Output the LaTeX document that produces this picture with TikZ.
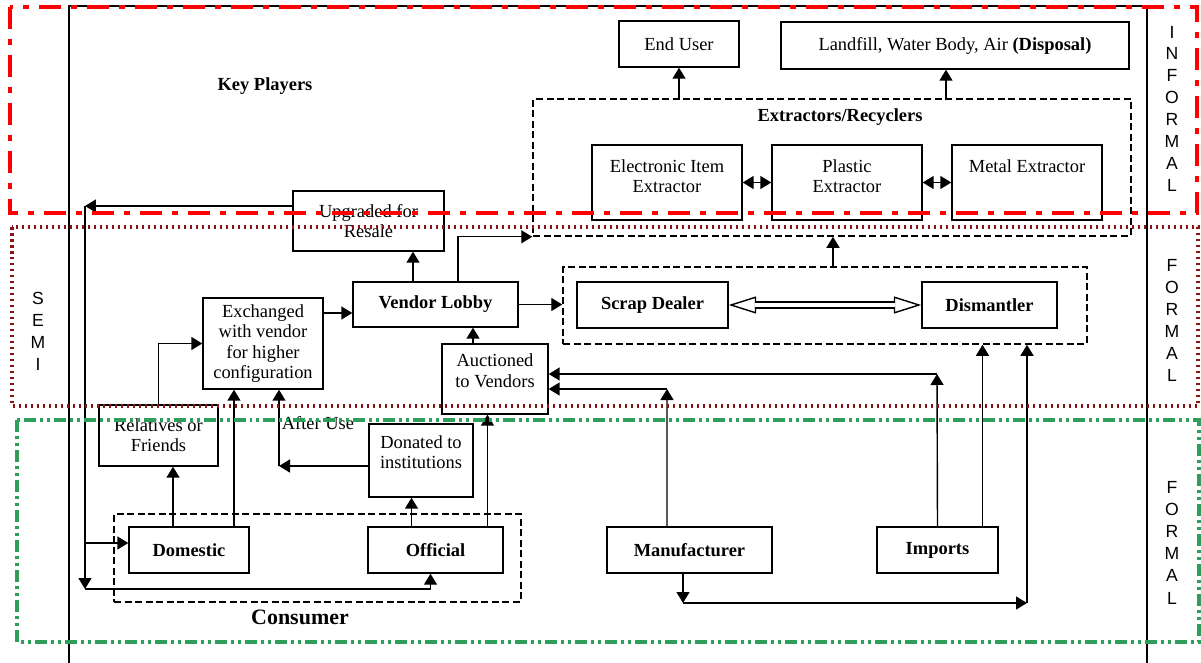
\documentclass[tikz,border=0pt]{standalone}
\usepackage{fontspec}
\setmainfont{Liberation Serif}
\newfontfamily\sidefont{Liberation Sans}
\usetikzlibrary{arrows.meta}
\definecolor{infred}{RGB}{255,0,0}
\definecolor{semired}{RGB}{140,20,20}
\definecolor{formgreen}{RGB}{46,158,90}

\begin{document}
\begin{tikzpicture}[x=0.02cm,y=-0.02cm,line join=miter,
  box/.style={draw,line width=0.8pt,align=center,inner sep=1pt,font=\fontsize{10.5}{11.5}\selectfont},
  bbox/.style={box,font=\fontsize{10.5}{11.5}\selectfont\bfseries},
  grp/.style={draw,line width=0.9pt,dash pattern=on 0.14cm off 0.07cm},
  lbl/.style={font=\fontsize{10.5}{11.5}\selectfont},
  side/.style={font=\sidefont\fontsize{10}{11}\selectfont,inner sep=0pt},
  arr/.style={line width=0.8pt,-{Triangle[length=0.22cm,width=0.26cm]}},
  dbl/.style={line width=0.8pt,{Triangle[length=0.22cm,width=0.26cm]}-{Triangle[length=0.22cm,width=0.26cm]}},
  hollowtip/.style={line width=0.8pt,{Triangle[open,length=0.55cm,width=0.34cm]}-{Triangle[open,length=0.55cm,width=0.34cm]}},
  hollow/.style={double,line width=0.8pt,double distance=0.09cm,shorten <=0.52cm,shorten >=0.52cm},
  informal/.style={draw=infred,line width=2.8pt,dash pattern=on 0.44cm off 0.2cm on 0.12cm off 0.2cm},
  semi/.style={draw=semired,line width=2pt,dash pattern=on 0.05cm off 0.07cm},
  formal/.style={draw=formgreen,line width=2pt,dash pattern=on 0.24cm off 0.08cm on 0.06cm off 0.08cm on 0.06cm off 0.08cm}]
\useasboundingbox (0,0) rectangle (1201,663);
\draw[line width=1.2pt] (69,663) -- (69,6) -- (1147,6) -- (1147,663);

\node[lbl,font=\fontsize{10.5}{11.5}\selectfont\bfseries] (keyplayers) at (265,86) {Key Players};

\node[grp,minimum width=11.96cm,minimum height=2.74cm] (extr) at (832,167.5) {};
\node[lbl,font=\fontsize{10.5}{11.5}\selectfont\bfseries] (extrlabel) at (840,117) {Extractors/Recyclers};
\node[grp,minimum width=10.48cm,minimum height=1.54cm] (scrapbox) at (825,305.5) {};
\node[grp,minimum width=8.14cm,minimum height=1.76cm] (consumer) at (317.5,558) {};
\node[lbl,font=\fontsize{12.5}{14}\selectfont\bfseries] (consumerlabel) at (300,617) {Consumer};

\node[box,minimum width=2.4cm,minimum height=0.92cm] (enduser) at (679,44) {End User};
\node[box,minimum width=6.96cm,minimum height=0.94cm] (landfill) at (955,45.5) {Landfill, Water Body, Air \textbf{(Disposal)}};
\node[box,minimum width=3cm,minimum height=1.5cm] (elec) at (667,182.5) {Electronic Item\\Extractor\\[-4pt]~};
\node[box,minimum width=3cm,minimum height=1.5cm] (plastic) at (847,182.5) {Plastic\\Extractor\\[-4pt]~};
\node[box,minimum width=3cm,minimum height=1.5cm] (metal) at (1027,182.5) {Metal Extractor\\~\\[-4pt]~};
\node[box,minimum width=3.02cm,minimum height=1.2cm] (upgraded) at (368.5,221) {Upgraded for\\Resale};
\node[bbox,minimum width=3.3cm,minimum height=0.9cm] (vendor) at (435.5,304.5) {Vendor Lobby};
\node[box,minimum width=2.4cm,minimum height=1.82cm] (exchanged) at (263,343.5) {Exchanged\\with vendor\\for higher\\configuration};
\node[box,minimum width=2.12cm,minimum height=1.4cm] (auctioned) at (495,379) {Auctioned\\to Vendors\\[-2pt]~};
\node[bbox,minimum width=3.02cm,minimum height=0.92cm] (scrap) at (652.5,305) {Scrap Dealer};
\node[bbox,minimum width=2.7cm,minimum height=0.92cm] (dismantler) at (989.5,305) {Dismantler};
\node[box,minimum width=2.38cm,minimum height=1.22cm] (relatives) at (158.5,435.5) {Relatives or\\Friends};
\node[box,minimum width=2.08cm,minimum height=1.46cm] (donated) at (421,460.5) {Donated to\\institutions\\[-2pt]~};
\node[lbl] (afteruse) at (318,423) {After Use};
\node[bbox,minimum width=2.4cm,minimum height=0.92cm] (domestic) at (189,550) {Domestic};
\node[bbox,minimum width=2.7cm,minimum height=0.92cm] (official) at (435.5,550) {Official};
\node[bbox,minimum width=3.3cm,minimum height=0.92cm] (manufacturer) at (689.5,550) {Manufacturer};
\node[bbox,minimum width=2.42cm,minimum height=0.92cm] (imports) at (937.5,550) {Imports};

\coordinate (lt) at (85,206);
\coordinate (lb) at (85,589);
\coordinate (au) at (279,466);
\coordinate (mc) at (667,389);
\coordinate (ic) at (937,374);
\coordinate (md) at (683,603);
\coordinate (mr) at (1027,603);
\coordinate (dw) at ([yshift=0.14cm]domestic.west);
\coordinate (vw) at ([yshift=-0.17cm]vendor.west);

\draw[arr] (extr.north -| enduser.south) -- (enduser.south);
\draw[arr] ([xshift=-0.18cm]landfill.south |- extr.north) -- ([xshift=-0.18cm]landfill.south);
\draw[dbl] (elec.east) -- (plastic.west);
\draw[dbl] (plastic.east) -- (metal.west);
\draw[arr] (lt -| upgraded.west) -- (lt);
\draw[arr] (lt) -- (lb);
\draw[arr] (lb) -| ([xshift=-0.1cm]official.south);
\draw[arr] (lt |- dw) -- (dw);
\draw[arr] ([xshift=-0.45cm]vendor.north) -- ([xshift=-0.45cm]vendor.north |- upgraded.south);
\draw[arr] ([xshift=0.45cm]vendor.north) |- (extr.south west);
\draw[arr] (exchanged.east |- vw) -- (vw);
\draw[arr] (vendor.east) -- (vendor.east -| scrapbox.west);
\draw[arr] ([xshift=-0.44cm]auctioned.north) -- ([xshift=-0.44cm]auctioned.north |- vendor.south);
\draw[arr] ([xshift=0.16cm]scrapbox.north) -- ([xshift=0.16cm]scrapbox.north |- extr.south);
\draw[hollowtip] (scrap.east) -- (dismantler.west);
\draw[hollow] (scrap.east) -- (dismantler.west);
\draw[arr] (relatives.north) |- (exchanged.west);
\draw[arr] ([xshift=-0.32cm]domestic.north) -- ([xshift=-0.32cm]domestic.north |- relatives.south);
\draw[arr] ([xshift=0.9cm]domestic.north) -- ([xshift=0.9cm]domestic.north |- exchanged.south);
\draw[arr] (au -| donated.west) -- (au);
\draw[arr] (au) -- (au |- exchanged.south);
\draw[arr] ([xshift=-0.48cm]official.north) -- ([xshift=-0.48cm]official.north |- donated.south);
\draw[arr] ([xshift=1.04cm]official.north) -- ([xshift=1.04cm]official.north |- auctioned.south);
\draw[arr] ([xshift=-0.45cm]manufacturer.north) -- (mc);
\draw[arr] (mc) -- (mc -| auctioned.east);
\draw[arr] (imports.north) -- (ic);
\draw[arr] (ic) -- (ic -| auctioned.east);
\draw[arr] ([xshift=0.9cm]imports.north) -- ([xshift=0.9cm]imports.north |- scrapbox.south);
\draw[arr] (md |- manufacturer.south) -- (md);
\draw[arr] (md) -- (mr);
\draw[arr] (mr) -- (mr |- scrapbox.south);

\draw[informal] (10,7) rectangle (1197,213);
\draw[semi] (12,227) rectangle (1198,406);
\draw[formal] (17,420) rectangle (1199,642);

\foreach \ch [count=\i from 0] in {I,N,F,O,R,M,A,L}
  \node[side] (inf\i) at (1172,{32+21.9*\i}) {\ch};
\foreach \ch [count=\i from 0] in {S,E,M,I}
  \node[side] (semi\i) at (38,{298+22.3*\i}) {\ch};
\foreach \ch [count=\i from 0] in {F,O,R,M,A,L}
  \node[side] (sf\i) at (1172,{265+22*\i}) {\ch};
\foreach \ch [count=\i from 0] in {F,O,R,M,A,L}
  \node[side] (ff\i) at (1172,{487+22.2*\i}) {\ch};
\end{tikzpicture}
\end{document}
